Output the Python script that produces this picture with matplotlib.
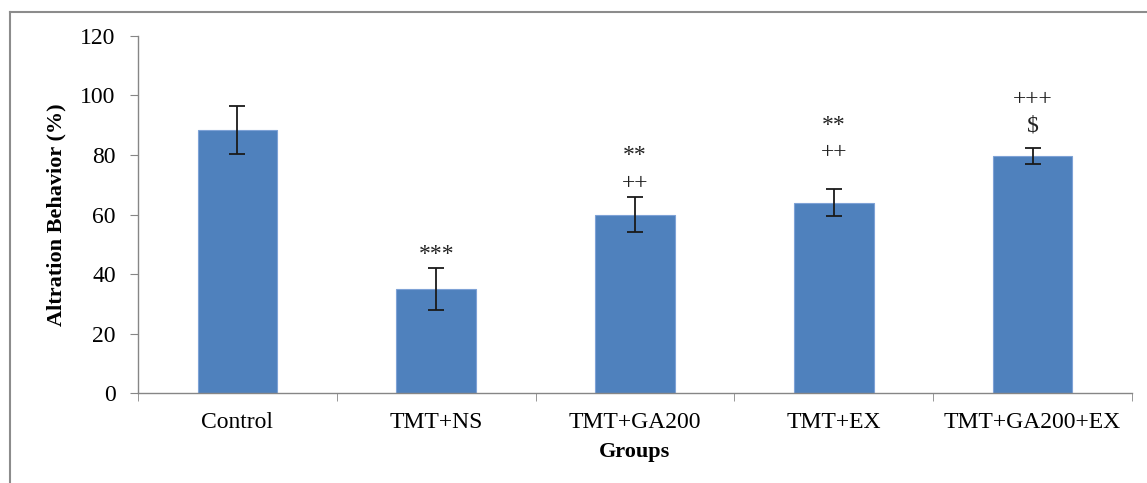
import matplotlib.pyplot as plt
import numpy as np
from matplotlib.lines import Line2D

plt.rcParams['font.family'] = ['Liberation Serif', 'DejaVu Serif']

# group means and error (SEM)
groups = ['Control', 'TMT+NS', 'TMT+GA200', 'TMT+EX', 'TMT+GA200+EX']
means = [88.4, 35.0, 60.0, 64.0, 79.7]
errs = [8.1, 7.1, 5.9, 4.5, 2.8]

# significance marks: (group index, text, y value)
marks = [
    (1, '***', 46.4),
    (2, '**', 79.7),
    (2, '++', 70.3),
    (3, '**', 90.0),
    (3, '++', 80.7),
    (4, '+++', 98.8),
    (4, '$', 89.7),
]

fig = plt.figure(figsize=(11.47, 4.83), dpi=100)
ax = fig.add_axes([0.1203, 0.1863, 0.8666, 0.7392])

x = np.arange(len(groups))
ax.bar(x, means, width=0.4, color='#4F81BD', edgecolor='#7EA2D6', linewidth=0.8, zorder=2)
ax.errorbar(x, means, yerr=errs, fmt='none', ecolor='#1a1a1a', elinewidth=1.3,
            capsize=6, capthick=1.3, zorder=3)

for i, txt, yv in marks:
    ax.text(x[i], yv, txt, ha='center', va='center', fontsize=17, color='#222222')

ax.set_xlim(-0.5, len(groups) - 0.5)
ax.set_ylim(0, 120)
ax.set_yticks(range(0, 121, 20))
ax.set_xticks(x)
ax.set_xticklabels(groups, fontsize=17)
ax.set_xticks(np.arange(-0.5, len(groups), 1), minor=True)
ax.tick_params(axis='x', which='major', length=0, pad=14)
ax.tick_params(axis='x', which='minor', length=6, color='#868686', direction='out')
ax.tick_params(axis='y', length=6, color='#868686', labelsize=17, pad=10)

for s in ['top', 'right']:
    ax.spines[s].set_visible(False)
for s in ['left', 'bottom']:
    ax.spines[s].set_color('#868686')
    ax.spines[s].set_linewidth(1.0)

ax.set_ylabel('Altration Behavior (%)', fontsize=16, fontweight='bold', labelpad=10)
ax.set_xlabel('Groups', fontsize=16, fontweight='bold', labelpad=6)

# chart area frame (left and top edges)
fig.add_artist(Line2D([10 / 1147, 10 / 1147], [0, 1 - 12 / 483], transform=fig.transFigure,
                      color='#8c8c8c', linewidth=1.5))
fig.add_artist(Line2D([10 / 1147, 1], [1 - 12 / 483, 1 - 12 / 483], transform=fig.transFigure,
                      color='#8c8c8c', linewidth=1.5))

fig.savefig('out.png', dpi=100)
